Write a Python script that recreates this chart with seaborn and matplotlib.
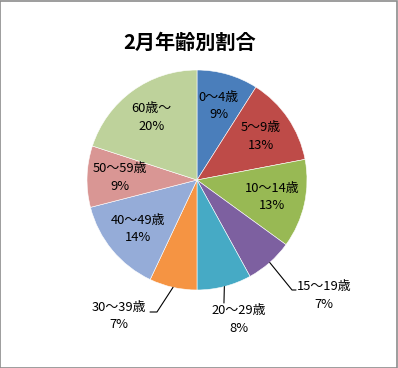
import numpy as np
import matplotlib
matplotlib.use("Agg")
import matplotlib.pyplot as plt
import seaborn as sns

# データ
age_groups = ["0～4歳", "5～9歳", "10～14歳", "15～19歳", "20～29歳",
              "30～39歳", "40～49歳", "50～59歳", "60歳～"]
shares = [9, 13, 13, 7, 8, 7, 14, 9, 20]
slice_colors = ["#4A7EBB", "#BE4B48", "#98B954", "#7D60A0", "#46AAC5",
                "#F59443", "#95ACD8", "#D99694", "#BED29B"]
title = "2月年齢別割合"

sns.set_theme(style="white")
plt.rcParams['font.family'] = ['Noto Sans CJK JP', 'DejaVu Sans']

fig = plt.figure(figsize=(3.98, 3.68), dpi=100)
fig.patch.set_facecolor("white")

# 円の中心 (197,180)px, 半径 110px になるように軸を全面に置く
ax = fig.add_axes([0, 0, 1, 1])
wedges, _ = ax.pie(shares, colors=slice_colors, startangle=90, counterclock=False,
                   radius=1.0, wedgeprops=dict(edgecolor="white", linewidth=0.4))
ax.set_xlim(-197 / 110, (398 - 197) / 110)
ax.set_ylim(-(368 - 180) / 110, 180 / 110)
ax.set_aspect("equal")
ax.axis("off")

# 外側に出すラベル: (テキスト中心, 折れ点, 線の終点)
outside = {
    3: ((1.155, -1.05), (0.864, -1.0), (0.90, -1.0)),
    4: ((0.382, -1.27), None, (0.245, -1.118)),
    5: ((-0.709, -1.235), (-0.364, -1.2), (-0.427, -1.2)),
}

for i, w in enumerate(wedges):
    mid = np.deg2rad((w.theta1 + w.theta2) / 2)
    txt = f"{age_groups[i]}\n{shares[i]}%"
    if i in outside:
        (tx, ty), elbow, end = outside[i]
        pts = [(np.cos(mid), np.sin(mid))]
        if elbow is not None:
            pts.append(elbow)
        pts.append(end)
        xs, ys = zip(*pts)
        ax.plot(xs, ys, color="black", lw=0.8)
        ax.text(tx, ty, txt, ha="center", va="center", fontsize=9.3,
                linespacing=1.45, color="black")
    else:
        r = 0.7
        ax.text(r * np.cos(mid), r * np.sin(mid), txt, ha="center", va="center",
                fontsize=9.3, linespacing=1.45, color="black")

fig.text(190 / 398, 1 - 42 / 368, title, ha="center", va="center",
         fontsize=14.5, fontweight="bold", color="black")

# 外枠
fig.patches.append(plt.Rectangle((0.001, 0.001), 0.997, 0.997, transform=fig.transFigure,
                                 fill=False, edgecolor="#8c8c8c", linewidth=1.2))

fig.savefig("out.png", dpi=100, facecolor="white")
